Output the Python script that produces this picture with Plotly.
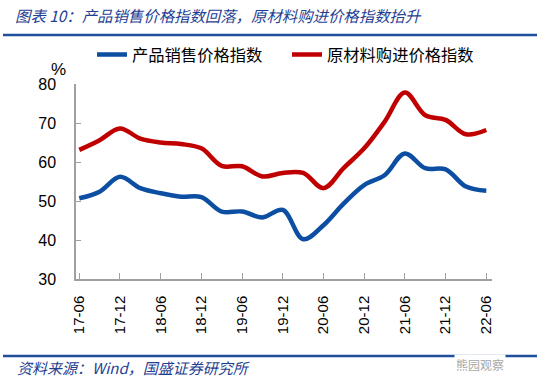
import plotly.graph_objects as go

quarters = ["17-06", "17-09", "17-12", "18-03", "18-06", "18-09", "18-12",
            "19-03", "19-06", "19-09", "19-12", "20-03", "20-06", "20-09",
            "20-12", "21-03", "21-06", "21-09", "21-12", "22-03", "22-06"]
sales_price = [50.7, 52.4, 56.2, 53.3, 52.0, 51.1, 51.0, 47.3, 47.3, 45.8, 47.7,
               40.2, 43.8, 49.4, 54.1, 56.6, 62.2, 58.4, 58.1, 53.7, 52.6]
purchase_price = [63.1, 65.6, 68.6, 66.0, 65.0, 64.6, 63.5, 59.0, 58.9, 56.3, 57.2,
                  57.2, 53.3, 58.5, 63.5, 70.3, 77.8, 72.0, 70.8, 67.1, 68.2]
tick_labels = quarters[::2]
series_names = ["产品销售价格指数", "原材料购进价格指数"]

x_idx = list(range(len(quarters)))
tick_idx = x_idx[::2]

BLUE = "#0B4EA2"
RED = "#C00000"
NAVY = "#1F3F93"
CJK = "Noto Sans CJK SC"

fig = go.Figure()
fig.add_trace(go.Scatter(x=x_idx, y=sales_price, mode="lines", name=series_names[0],
                         line=dict(color=BLUE, width=4.5, shape="spline", smoothing=1.0)))
fig.add_trace(go.Scatter(x=x_idx, y=purchase_price, mode="lines", name=series_names[1],
                         line=dict(color=RED, width=4.5, shape="spline", smoothing=1.0)))

L, R, T, B = 76, 58, 84, 106
W, H = 550, 385
pw, ph = W - L - R, H - T - B

def px(xp):
    return (xp - L) / pw

def py(yp):
    return (H - B - yp) / ph

fig.update_layout(
    width=W, height=H,
    margin=dict(l=L, r=R, t=T, b=B, autoexpand=False),
    paper_bgcolor="white", plot_bgcolor="white",
    font=dict(family="Liberation Sans, Arial, sans-serif", color="black"),
    showlegend=True,
    legend=dict(orientation="h", x=px(92), xanchor="left", y=py(55), yanchor="middle",
                font=dict(family=CJK, size=16.3, color="black"),
                entrywidth=150, entrywidthmode="pixels",
                bgcolor="rgba(0,0,0,0)"),
    xaxis=dict(range=[-0.16, 20.28], tickvals=tick_idx, ticktext=tick_labels,
               tickangle=-90, showline=True, linecolor="#A0A0A0", linewidth=1.5,
               ticks="inside", ticklen=6, tickcolor="#A0A0A0", ticklabelstandoff=9,
               showgrid=False, zeroline=False, automargin=False,
               tickfont=dict(family="Liberation Sans, Arial", size=15, color="black")),
    yaxis=dict(range=[30, 80], dtick=10, showline=True, linecolor="#A0A0A0", linewidth=1.5,
               ticks="inside", ticklen=5, tickcolor="#A0A0A0", ticklabelstandoff=15,
               showgrid=False, zeroline=False, automargin=False,
               tickfont=dict(family="Liberation Sans, Arial", size=16, color="black")),
    title=dict(text="<i>图表 10：产品销售价格指数回落，原材料购进价格指数抬升</i>",
               x=15 / W, xanchor="left", xref="container",
               y=1 - 17 / H, yanchor="middle", yref="container",
               font=dict(family=CJK, size=15.4, color=NAVY)),
)

fig.add_shape(type="line", xref="paper", yref="paper", x0=px(3), x1=px(537),
              y0=py(35), y1=py(35), line=dict(color="#1F4E9C", width=2.5))
fig.add_shape(type="line", xref="paper", yref="paper", x0=px(3), x1=px(537),
              y0=py(356), y1=py(356), line=dict(color="#1F4E9C", width=2.5))

fig.add_annotation(text="%", xref="paper", yref="paper", x=px(58), y=py(69),
                   xanchor="center", yanchor="middle", showarrow=False,
                   font=dict(family="Liberation Sans, Arial", size=17, color="black"))
fig.add_annotation(text="<i>资料来源：Wind，国盛证券研究所</i>", xref="paper", yref="paper",
                   x=px(15), y=py(367), xanchor="left", yanchor="middle", showarrow=False,
                   font=dict(family=CJK, size=15, color=NAVY))
fig.add_annotation(text="熊园观察", xref="paper", yref="paper",
                   x=px(506), y=py(364), xanchor="right", yanchor="middle", showarrow=False,
                   bgcolor="white",
                   font=dict(family=CJK, size=12, color="#A8A8A8"))

fig.write_html("out.html", config={"displayModeBar": False},
               post_script="document.body.style.margin='0';")
